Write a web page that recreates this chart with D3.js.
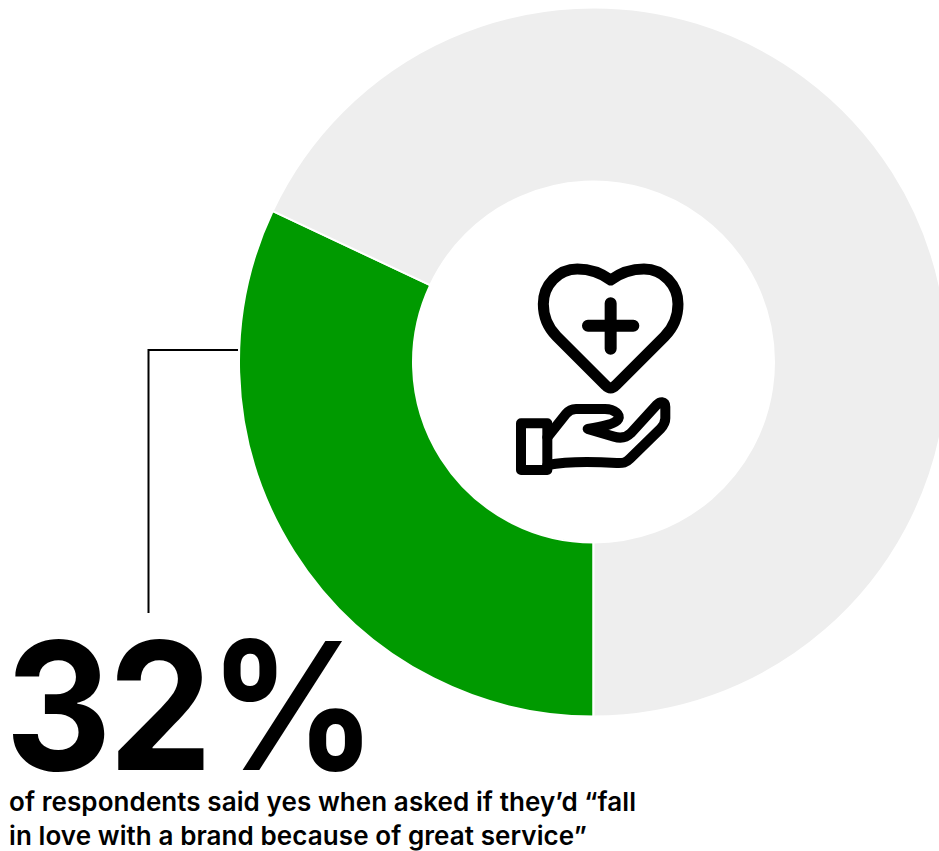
<!DOCTYPE html>
<html>
<head>
<meta charset="utf-8">
<script src="https://cdn.jsdelivr.net/npm/d3@7"></script>
<style>
  html, body { margin: 0; padding: 0; background: #fff; overflow: hidden; }
  svg { display: block; }
  text { font-family: Inter, "Liberation Sans", sans-serif; fill: #000; }
</style>
</head>
<body>
<svg id="chart" width="939" height="851"></svg>
<script>
// Survey split, drawn clockwise from six o'clock
const categories = ["Yes", "Other"];
const values = [32, 68];
const sliceColors = ["#009a00", "#eeeeee"];
const headline = "32%";
const captionLines = [
  "of respondents said yes when asked if they’d “fall",
  "in love with a brand because of great service”"
];

const svg = d3.select("#chart");
const cx = 593.5, cy = 362, outerR = 354.5, innerR = 180.5;

const pie = d3.pie().sort(null).startAngle(Math.PI).endAngle(3 * Math.PI);
const arc = d3.arc().innerRadius(innerR).outerRadius(outerR);
const color = d3.scaleOrdinal().domain(categories).range(sliceColors);

svg.append("g")
  .attr("transform", `translate(${cx},${cy})`)
  .selectAll("path")
  .data(pie(values))
  .join("path")
  .attr("d", arc)
  .attr("fill", (d, i) => color(categories[i]))
  .attr("stroke", "#fff")
  .attr("stroke-width", 2);

// Leader from the green slice down to the headline
svg.append("path")
  .attr("d", "M238 350H148.5V613")
  .attr("fill", "none")
  .attr("stroke", "#000")
  .attr("stroke-width", 2);

// Heart-in-hand icon, authored on a 3x grid
const icon = svg.append("g")
  .attr("transform", "translate(490,240) scale(0.3333)")
  .attr("fill", "none")
  .attr("stroke", "#000")
  .attr("stroke-width", 33)
  .attr("stroke-linecap", "round")
  .attr("stroke-linejoin", "round");

icon.append("path").attr("d",
  "M362 120C332 98 300 87 262 87C205 87 160 135 160 192C160 232 178 267 200 289L347 436Q362 452 377 436L524 289C546 267 564 232 564 192C564 135 519 87 462 87C424 87 392 98 362 120Z");
icon.append("path").attr("stroke-width", 36).attr("d", "M362 190V326M294 257H430");
icon.append("rect")
  .attr("x", 93).attr("y", 550).attr("width", 79).attr("height", 140)
  .attr("stroke-width", 30);
icon.append("path")
  .attr("stroke-width", 30)
  .attr("d",
  "M172 592L228 522Q240 507 258 507H345C375 507 392 525 385 537C378 550 350 558 293 567L372 590C395 597 410 592 422 580L500 495C510 484 526 482 526 500V535C526 548 522 555 512 566L420 656C408 668 400 670 380 669C300 664 230 664 172 675");

// The headline is condensed horizontally to its set width
svg.append("text")
  .attr("transform", "translate(5,769.5) scale(0.93,1)")
  .attr("font-size", 178)
  .attr("font-weight", 700)
  .attr("letter-spacing", -4)
  .text(headline);

svg.append("g")
  .selectAll("text")
  .data(captionLines)
  .join("text")
  .attr("x", 9)
  .attr("y", (d, i) => 811 + i * 33.5)
  .attr("font-size", 26)
  .attr("font-weight", 600)
  .attr("letter-spacing", 0.08)
  .text(d => d);
</script>
</body>
</html>
